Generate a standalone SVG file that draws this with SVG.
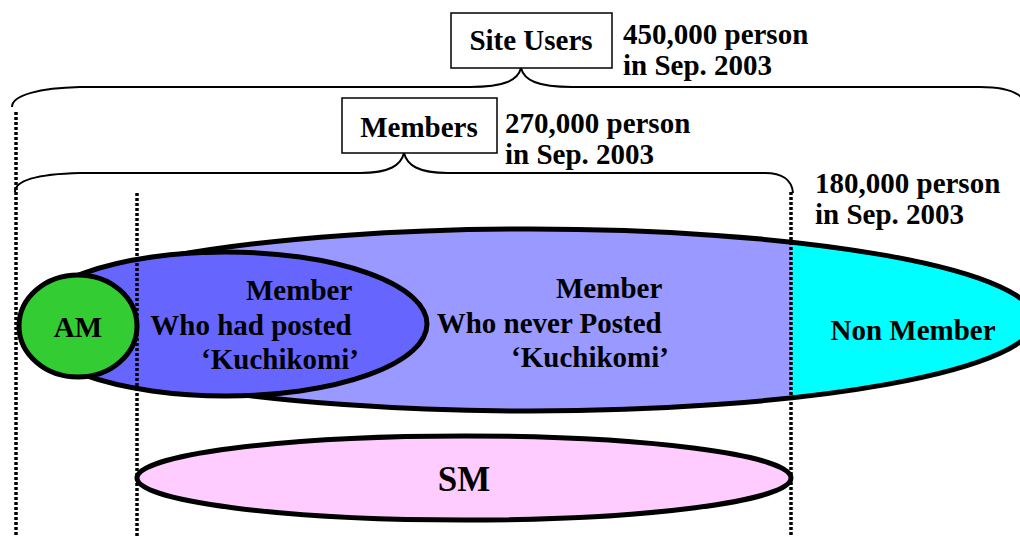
<svg xmlns="http://www.w3.org/2000/svg" width="1020" height="537" viewBox="0 0 1020 537">
  <style>
    .t { font-family: "Liberation Serif", "Times New Roman", serif; font-weight: bold; font-size: 29px; fill: #000; }
    .box { fill: #fff; stroke: #000; stroke-width: 1.5; }
    .brace { fill: none; stroke: #000; stroke-width: 2; }
    .dot { fill: none; stroke: #000; stroke-width: 3.5; stroke-dasharray: 3 2; }
    .edge { stroke: #000; stroke-width: 5; }
  </style>
  <defs>
    <clipPath id="memberSide">
      <rect x="0" y="0" width="791" height="537"/>
    </clipPath>
  </defs>

  <!-- whole user population -->
  <g id="users-ellipse">
    <ellipse cx="530" cy="320" rx="505" ry="91" fill="#00FFFF"/>
    <ellipse cx="530" cy="320" rx="505" ry="91" fill="#9999FF" clip-path="url(#memberSide)"/>
    <ellipse cx="530" cy="320" rx="505" ry="91" fill="none" class="edge"/>
  </g>

  <g id="posted-members">
    <ellipse cx="226" cy="324" rx="201" ry="72" fill="#6666FF" class="edge"/>
  </g>

  <g id="am">
    <ellipse cx="78" cy="326" rx="59" ry="51" fill="#33CC33" class="edge"/>
    <text class="t" x="78" y="337" text-anchor="middle">AM</text>
  </g>

  <g id="sm">
    <ellipse cx="464" cy="478" rx="327" ry="42" fill="#FFCCFF" class="edge"/>
    <text class="t" x="464" y="491" text-anchor="middle" style="font-size:35px">SM</text>
  </g>

  <g id="labels">
    <text class="t" text-anchor="end">
      <tspan x="359" y="300">Member</tspan>
      <tspan x="359" y="335">Who had posted</tspan>
      <tspan x="359" y="369">‘Kuchikomi’</tspan>
    </text>
    <text class="t" text-anchor="end">
      <tspan x="669" y="298">Member</tspan>
      <tspan x="669" y="333">Who never Posted</tspan>
      <tspan x="669" y="367">‘Kuchikomi’</tspan>
    </text>
    <text class="t" x="913" y="340" text-anchor="middle">Non Member</text>
  </g>

  <!-- dotted boundaries and braces -->
  <g id="connectors">
    <line class="dot" x1="16" y1="112" x2="16" y2="537"/>
    <line class="dot" x1="137" y1="193" x2="137" y2="537"/>
    <line class="dot" x1="791" y1="192" x2="791" y2="537"/>
    <path class="brace" d="M12,107 C12,95 40,88 80,87 L470,87 C505,87 518,80 521,68 C524,80 537,87 572,87 L980,87 C1005,87 1018,92 1024,100"/>
    <path class="brace" d="M15,192 C15,180 40,174 80,173 L360,173 C390,173 401,165 404,153 C407,165 418,173 448,173 L765,173 C782,173 792,180 793,193"/>
  </g>

  <g id="site-users">
    <rect class="box" x="451" y="13" width="161" height="55"/>
    <text class="t" x="531" y="50" text-anchor="middle">Site Users</text>
    <text class="t"><tspan x="623" y="44">450,000 person</tspan><tspan x="623" y="75">in Sep. 2003</tspan></text>
  </g>

  <g id="members">
    <rect class="box" x="342" y="98" width="155" height="55"/>
    <text class="t" x="419" y="137" text-anchor="middle">Members</text>
    <text class="t"><tspan x="505" y="133">270,000 person</tspan><tspan x="505" y="164">in Sep. 2003</tspan></text>
  </g>

  <g id="non-members">
    <text class="t"><tspan x="815" y="193">180,000 person</tspan><tspan x="815" y="224">in Sep. 2003</tspan></text>
  </g>
</svg>
